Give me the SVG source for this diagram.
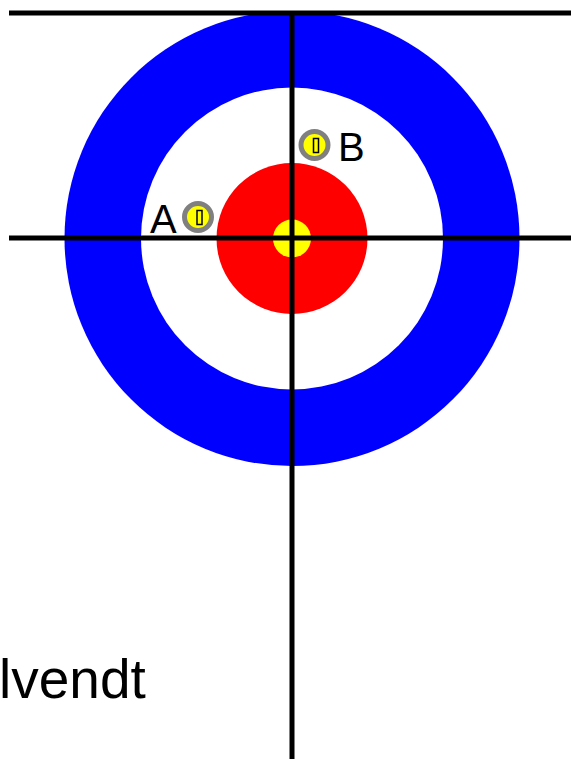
<svg xmlns="http://www.w3.org/2000/svg" width="571" height="759" viewBox="0 0 571 759">
<style>
.ln{stroke:#000;stroke-width:5;fill:none}
.lbl{font-family:"Liberation Sans",Arial,sans-serif;fill:#000}
.stone{fill:#ffff00;stroke:#808080;stroke-width:5}
.handle{fill:#ffff00;stroke:#000;stroke-width:1.5}
</style>
<rect width="571" height="759" fill="#fff"/>
<g id="house">
<circle cx="292" cy="238.5" r="227.5" fill="#0000ff"/>
<circle cx="292" cy="238.5" r="151" fill="#fff"/>
<circle cx="292" cy="238.5" r="75.5" fill="#ff0000"/>
<circle cx="292" cy="238.5" r="19" fill="#ffff00"/>
</g>
<g id="connectors">
<line class="ln" x1="9" y1="13" x2="571" y2="13"/>
<line class="ln" x1="9" y1="238" x2="571" y2="238"/>
<line class="ln" x1="292" y1="12" x2="292" y2="759"/>
</g>
<g id="stoneA">
<circle class="stone" cx="198" cy="217" r="13.5"/>
<rect class="handle" x="197" y="210.5" width="5" height="14"/>
<text class="lbl" x="150" y="233" font-size="40">A</text>
</g>
<g id="stoneB">
<circle class="stone" cx="314.5" cy="145" r="13.5"/>
<rect class="handle" x="313.5" y="138.5" width="5" height="14"/>
<text class="lbl" x="338" y="161" font-size="40">B</text>
</g>
<text class="lbl" x="-1" y="698" font-size="55">lvendt</text>
</svg>
